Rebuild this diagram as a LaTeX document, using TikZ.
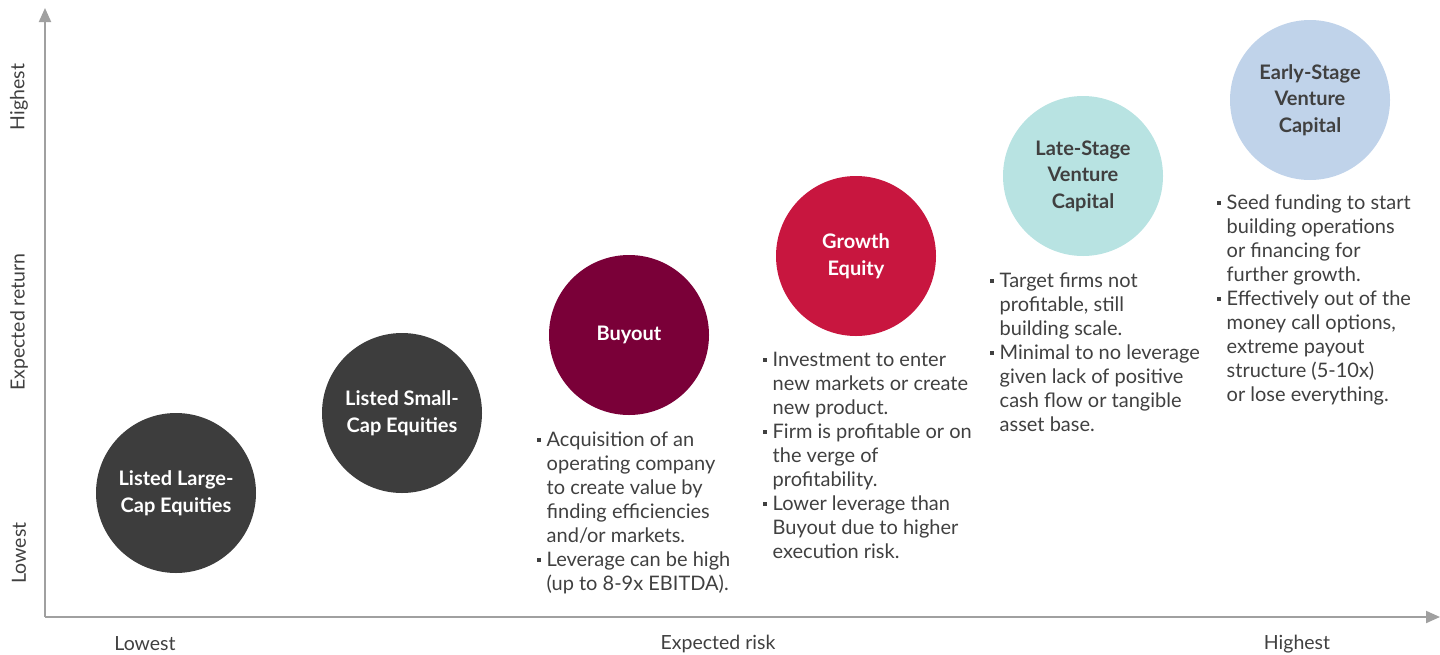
\documentclass[tikz,border=0pt]{standalone}
\usepackage{fontspec}
\setmainfont{Lato}
\usetikzlibrary{arrows.meta}
\definecolor{axisgrey}{HTML}{A0A0A0}
\definecolor{txtgrey}{HTML}{404040}
\definecolor{darkc}{HTML}{3D3D3D}
\definecolor{buyoutc}{HTML}{7A0038}
\definecolor{growthc}{HTML}{C8163F}
\definecolor{latec}{HTML}{B8E3E2}
\definecolor{earlyc}{HTML}{C0D3EA}
\newcommand{\bul}{\makebox[9.5pt][l]{\raisebox{0.25em}{\rule{4pt}{4pt}}}}
\newcommand{\ind}{\hspace*{9.5pt}}
\tikzset{
  bubble/.style={circle, minimum size=160pt, inner sep=0pt, align=center,
    font=\fontsize{20}{26.5}\selectfont\bfseries},
  bullets/.style={anchor=north west, inner sep=0pt, align=left, text=txtgrey,
    font=\fontsize{20}{24}\selectfont},
  axislbl/.style={text=txtgrey, font=\fontsize{19.5}{22}\selectfont, inner sep=0pt},
  axisline/.style={draw=axisgrey, line width=2pt, -{Triangle[length=14pt,width=12pt]}}
}
\begin{document}
\begin{tikzpicture}[x=1pt,y=-1pt]
\useasboundingbox (0,0) rectangle (1440,654);
\coordinate (O) at (45,617);
\coordinate (ytop) at (45,8);
\coordinate (xend) at (1440,617);
\draw[axisline] (O) -- (ytop);
\draw[axisline] (O) -- (xend);

\node[axislbl, rotate=90] (yhi) at (19,97) {Highest};
\node[axislbl, rotate=90] (ymid) at (19,322) {Expected return};
\node[axislbl, rotate=90] (ylo) at (19,553) {Lowest};
\node[axislbl] (xlo) at (145,644) {Lowest};
\node[axislbl] (xmid) at (718,644) {Expected risk};
\node[axislbl] (xhi) at (1297,644) {Highest};

\node[bubble, fill=darkc, text=white] (large) at (176,493) {Listed Large-\\Cap Equities};
\node[bubble, fill=darkc, text=white] (small) at (402,413) {Listed Small-\\Cap Equities};
\node[bubble, fill=buyoutc, text=white] (buyout) at (629,335) {Buyout};
\node[bubble, fill=growthc, text=white] (growth) at (856,256) {Growth\\Equity};
\node[bubble, fill=latec, text=txtgrey] (late) at (1083,176) {Late-Stage\\Venture\\Capital};
\node[bubble, fill=earlyc, text=txtgrey] (early) at (1310,100) {Early-Stage\\Venture\\Capital};

\node[bullets] (tbuy) at (537,432) {\bul Acquisition of an\\ \ind operating company\\ \ind to create value by\\ \ind finding efficiencies\\ \ind and/or markets.\\ \bul Leverage can be high\\ \ind (up to 8-9x EBITDA).};
\node[bullets] (tgrow) at (763,352) {\bul Investment to enter\\ \ind new markets or create\\ \ind new product.\\ \bul Firm is profitable or on\\ \ind the verge of\\ \ind profitability.\\ \bul Lower leverage than\\ \ind Buyout due to higher\\ \ind execution risk.};
\node[bullets] (tlate) at (990,273) {\bul Target firms not\\ \ind profitable, still\\ \ind building scale.\\ \bul Minimal to no leverage\\ \ind given lack of positive\\ \ind cash flow or tangible\\ \ind asset base.};
\node[bullets] (tearly) at (1217,195) {\bul Seed funding to start\\ \ind building operations\\ \ind or financing for\\ \ind further growth.\\ \bul Effectively out of the\\ \ind money call options,\\ \ind extreme payout\\ \ind structure (5-10x)\\ \ind or lose everything.};
\end{tikzpicture}
\end{document}
